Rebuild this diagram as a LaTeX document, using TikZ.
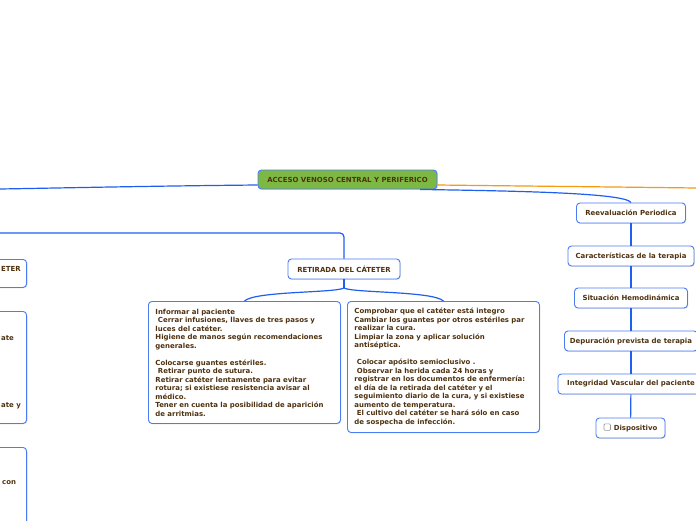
\documentclass[tikz,border=0pt]{standalone}
\usepackage{fontspec}
\setmainfont{DejaVu Sans}
\usetikzlibrary{shadows}
\definecolor{boxblue}{HTML}{4A7CF2}
\definecolor{linkblue}{HTML}{1F5FF0}
\definecolor{txt}{HTML}{4E3210}
\definecolor{rootgreen}{HTML}{7DB843}
\definecolor{orangeline}{HTML}{F59A12}
\newcommand\bodyfnt{\fontsize{6.95}{8.5}\selectfont\bfseries}
\tikzset{
  box/.style={draw=boxblue, line width=0.9pt, fill=white, rounded corners=3.5pt,
    text=txt, font=\bodyfnt, inner sep=0pt,
    drop shadow={shadow xshift=0.8pt, shadow yshift=-0.9pt, opacity=0.22}},
  titlebox/.style={box, minimum height=20pt},
  bigbox/.style={box, anchor=north west, align=left, text width=178pt, minimum width=192pt},
  link/.style={draw=linkblue, line width=1.2pt},
  frag/.style={text=txt, font=\bodyfnt, inner sep=0pt, anchor=west}
}
\begin{document}
\begin{tikzpicture}[x=1pt,y=-1pt]
\useasboundingbox (0,0) rectangle (696,520);
\clip (0,0) rectangle (696,520);
\fill[white] (0,0) rectangle (696,520);

% coordinates for free ends
\coordinate (lout) at (0,189);
\coordinate (rout) at (696,188);
\coordinate (hl) at (0,233);
\coordinate (rjoin) at (344,288);

% root
\node[box, fill=rootgreen, minimum width=179pt, minimum height=19pt] (root) at (347.5,179.5) {ACCESO VENOSO CENTRAL Y PERIFERICO};

% right branch
\node[titlebox, minimum width=109pt] (reev) at (631,213) {Reevaluación Periodica};
\node[titlebox, minimum width=126pt] (car) at (631,256) {Características de la terapia};
\node[titlebox, minimum width=113pt] (sit) at (631,298) {Situación Hemodinámica};
\node[titlebox, minimum width=133pt] (dep) at (631,341) {Depuración prevista de terapia};
\node[titlebox, minimum width=146pt] (integ) at (631,384) {Integridad Vascular del paciente};
\node[titlebox, minimum width=69pt] (disp) at (630.5,428) {\tikz[baseline=-0.5pt]\draw[gray!80, line width=0.6pt, fill=white, rounded corners=1pt] (0,0) rectangle (6.5pt,6.5pt);\hspace{3pt}Dispositivo};

% middle branch
\node[titlebox, minimum width=112pt] (ret) at (344,269) {RETIRADA DEL CÁTETER};

\node[bigbox, minimum height=122pt] (b1) at (148,301) {%
Informar al paciente\\
\hspace*{2.5pt}Cerrar infusiones, llaves de tres pasos y\\
luces del catéter.\\
Higiene de manos según recomendaciones\\
generales.\\
\mbox{}\\
Colocarse guantes estériles.\\
\hspace*{2.5pt}Retirar punto de sutura.\\
Retirar catéter lentamente para evitar\\
rotura; si existiese resistencia avisar al\\
médico.\\
Tener en cuenta la posibilidad de aparición\\
de arritmias.};

\node[bigbox, minimum height=131pt] (b2) at (347,301) {%
Comprobar que el catéter está integro\\
Cambiar los guantes por otros estériles par\\
realizar la cura.\\
Limpiar la zona y aplicar solución\\
antiséptica.\\
\mbox{}\\
\hspace*{2.5pt}Colocar apósito semioclusivo .\\
\hspace*{2.5pt}Observar la herida cada 24 horas y\\
registrar en los documentos de enfermería:\\
el día de la retirada del catéter y el\\
seguimiento diario de la cura, y si existiese\\
aumento de temperatura.\\
\hspace*{2.5pt}El cultivo del catéter se hará sólo en caso\\
de sospecha de infección.};

% left partial boxes
\node[box, anchor=north east, minimum width=60pt, minimum height=28pt] (la) at (27,259) {};
\node[box, anchor=north east, minimum width=60pt, minimum height=112pt] (lb) at (27,311) {};
\node[box, anchor=north east, minimum width=60pt, minimum height=100pt] (lc) at (27,447) {};
\node[frag] (fa) at (1,268.5) {ETER};
\node[frag] (fb1) at (1,338) {ate};
\node[frag] (fb2) at (1,405.5) {ate y};
\node[frag] (fc) at (2,482.5) {con};

% connectors
\draw[link] ([yshift=-5.5pt]root.west) .. controls (150,186) and (60,188) .. (lout);
\draw[draw=orangeline, line width=1.2pt] ([yshift=-5.5pt]root.east) .. controls (520,186) and (620,187) .. (rout);
\draw[link] ([xshift=72.5pt]root.south) .. controls (520,191) and (625,193) .. (reev.north);
\draw[link] (reev) -- (car);
\draw[link] (car) -- (sit);
\draw[link] (sit) -- (dep);
\draw[link] (dep) -- (integ);
\draw[link] (integ) -- (disp);
\draw[link, rounded corners=4pt] (hl) -| (ret.north);
\draw[link] (ret.south) -- (rjoin);
\draw[link] (rjoin) .. controls (335,293) and (255,291) .. (b1.north);
\draw[link] (rjoin) .. controls (353,293) and (433,291) .. (b2.north);
\end{tikzpicture}
\end{document}
